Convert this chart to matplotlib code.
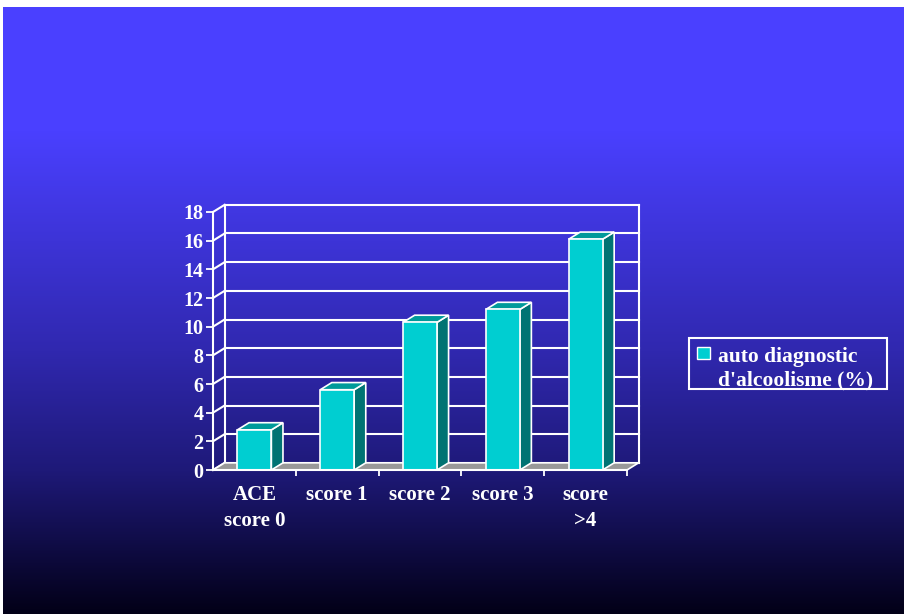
import numpy as np
import matplotlib.pyplot as plt
from matplotlib.patches import Polygon, Rectangle

# data
categories = ["ACE\nscore 0", "score 1", "score 2", "score 3", "score\n>4"]
values = [2.8, 5.6, 10.3, 11.2, 16.1]
series_name = "auto diagnostic\nd'alcoolisme (%)"
y_ticks = list(range(0, 19, 2))

# colours
FRONT = "#00CED1"
SIDE = "#007373"
TOP = "#009A9A"
FLOOR = "#999999"
LINE = "white"
FONT = "Liberation Serif"

# pseudo-3D depth, in data units (categories, value)
DX, DY = 0.14, 0.5
BAR_W = 0.41

W, H = 906, 614
fig = plt.figure(figsize=(W / 100, H / 100), dpi=100, facecolor="white")

# slide background: flat blue at the top fading to near black
bg = fig.add_axes([3 / W, 0, 901 / W, 607 / H], zorder=-10)
rows = np.arange(607)
stop_rows = [0, 123, 343, 463, 607]
stop_cols = np.array([(74, 64, 255), (74, 64, 255), (48, 40, 175),
                      (30, 25, 120), (2, 0, 22)]) / 255
grad = np.stack([np.interp(rows, stop_rows, stop_cols[:, i]) for i in range(3)],
                axis=-1)[:, None, :]
bg.imshow(grad, aspect="auto", extent=(0, 1, 0, 1))
bg.axis("off")

ax = fig.add_axes([213 / W, (H - 470) / H, 414 / W, 258 / H])
ax.set_xlim(-0.5, 4.5)
ax.set_ylim(0, 18)
ax.patch.set_visible(False)

x0, x1 = -0.5, len(categories) - 0.5

# back wall and left wall grid
for v in y_ticks:
    ax.plot([x0 + DX, x1 + DX], [v + DY, v + DY], color=LINE, lw=1.5,
            clip_on=False, zorder=1)
    ax.plot([x0, x0 + DX], [v, v + DY], color=LINE, lw=1.5,
            clip_on=False, zorder=1)
for xe in (x0 + DX, x1 + DX):
    ax.plot([xe, xe], [DY, y_ticks[-1] + DY], color=LINE, lw=1.5,
            clip_on=False, zorder=1)

# floor
ax.add_patch(Polygon([(x0, 0), (x1, 0), (x1 + DX, DY), (x0 + DX, DY)],
                     closed=True, facecolor=FLOOR, edgecolor=LINE, lw=1.2,
                     clip_on=False, zorder=2))

# bars: front faces, then sides and tops
xs = np.arange(len(categories))
ax.bar(xs, values, width=BAR_W, color=FRONT, edgecolor=LINE, lw=1.2, zorder=5)
for x, v in zip(xs, values):
    r, l = x + BAR_W / 2, x - BAR_W / 2
    ax.add_patch(Polygon([(r, 0), (r + DX, DY), (r + DX, v + DY), (r, v)],
                         closed=True, facecolor=SIDE, edgecolor=LINE, lw=1.2,
                         clip_on=False, zorder=4))
    ax.add_patch(Polygon([(l, v), (r, v), (r + DX, v + DY), (l + DX, v + DY)],
                         closed=True, facecolor=TOP, edgecolor=LINE, lw=1.2,
                         clip_on=False, zorder=4))

# axes
for side in ("top", "right"):
    ax.spines[side].set_visible(False)
for side in ("left", "bottom"):
    ax.spines[side].set_color(LINE)
    ax.spines[side].set_linewidth(1.5)
    ax.spines[side].set_zorder(6)

ax.set_yticks(y_ticks)
ax.tick_params(axis="y", colors=LINE, length=5, width=1.3, pad=2)
for lbl in ax.get_yticklabels():
    lbl.set_fontfamily(FONT)
    lbl.set_fontweight("bold")
    lbl.set_fontsize(14.5)

ax.set_xticks(xs)
ax.set_xticklabels(categories)
ax.set_xticks(list(xs + 0.5), minor=True)
ax.tick_params(axis="x", which="major", length=0, pad=11, colors=LINE)
ax.tick_params(axis="x", which="minor", length=4, width=1.3, color=LINE)
for lbl in ax.get_xticklabels():
    lbl.set_fontfamily(FONT)
    lbl.set_fontweight("bold")
    lbl.set_fontsize(15)
    lbl.set_linespacing(1.4)

# legend
fig.add_artist(Rectangle((689 / W, (H - 389) / H), 198 / W, 51 / H,
                         transform=fig.transFigure, fill=False,
                         edgecolor=LINE, lw=1.5))
fig.add_artist(Rectangle((697 / W, (H - 359) / H), 13 / W, 12 / H,
                         transform=fig.transFigure, facecolor=FRONT,
                         edgecolor=LINE, lw=1))
for i, line in enumerate(series_name.split("\n")):
    fig.text(718 / W, (H - 362 - 23.5 * i) / H, line, color=LINE,
             family=FONT, weight="bold", fontsize=15.5, va="baseline")

fig.savefig("out.png", dpi=100, facecolor="white")
